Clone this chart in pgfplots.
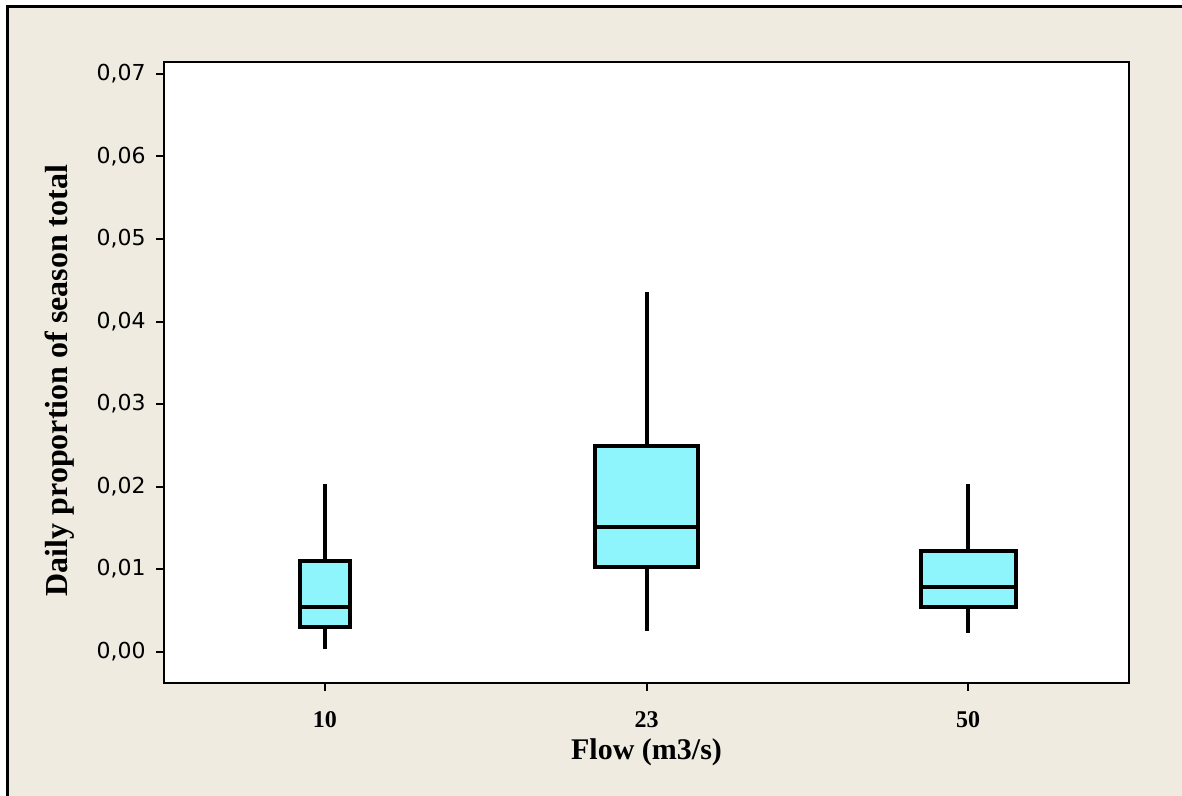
\documentclass[border=0pt]{standalone}
\usepackage{pgfplots}
\pgfplotsset{compat=1.18}
\usepgfplotslibrary{statistics}
\usepackage{fontspec}
\setmainfont{Liberation Serif}
\newfontfamily\tickfont{DejaVu Sans}
\definecolor{bg}{RGB}{239,235,225}
\definecolor{boxfill}{RGB}{143,245,252}
\begin{document}
\begin{tikzpicture}
\useasboundingbox (0,0) rectangle (591pt,398pt);
\fill[white] (0,0) rectangle (591pt,398pt);
\fill[bg] (3.5pt,0) rectangle (591pt,394.5pt);
\draw[line width=1.5pt] (3.5pt,0) -- (3.5pt,394.5pt) -- (591pt,394.5pt);
\begin{axis}[
  at={(82pt,56.5pt)}, anchor=south west,
  scale only axis, width=482.5pt, height=310.5pt,
  axis background/.style={fill=white},
  axis line style={line width=1pt, black},
  xmin=-0.5, xmax=2.5, ymin=-0.0038, ymax=0.07145,
  scaled y ticks=false,
  xtick={0,1,2}, xticklabels={10,23,50},
  ytick={0,0.01,0.02,0.03,0.04,0.05,0.06,0.07},
  yticklabels={{0,00},{0,01},{0,02},{0,03},{0,04},{0,05},{0,06},{0,07}},
  tick align=outside, tick pos=left,
  major tick length=4pt,
  every tick/.style={black, line width=1pt},
  yticklabel style={font=\tickfont\fontsize{11}{13}\selectfont, anchor=east, inner sep=0pt, xshift=-5pt},
  xticklabel style={font=\bfseries\fontsize{12}{14}\selectfont, anchor=center, inner sep=0pt, yshift=-14.5pt},
  xlabel={Flow (m3/s)},
  ylabel={Daily proportion of season total},
  every axis x label/.style={at={(rel axis cs:0.5,0)}, anchor=center, yshift=-34.5pt, font=\bfseries\fontsize{15}{17}\selectfont},
  every axis y label/.style={at={(rel axis cs:0,0.5)}, anchor=center, xshift=-52pt, yshift=-4pt, rotate=90, font=\bfseries\fontsize{16}{18}\selectfont},
  boxplot/draw direction=y,
  boxplot/whisker extend=0,
  clip=false,
]
\addplot+[boxplot prepared={draw position=0, lower whisker=0.00036, lower quartile=0.00294, median=0.00541, upper quartile=0.01094, upper whisker=0.02035, box extend=0.155},
  draw=black, fill=boxfill, line width=2pt, solid, mark=none] coordinates {};
\addplot+[boxplot prepared={draw position=1, lower whisker=0.00254, lower quartile=0.01026, median=0.0151, upper quartile=0.02495, upper whisker=0.0436, box extend=0.323},
  draw=black, fill=boxfill, line width=2pt, solid, mark=none] coordinates {};
\addplot+[boxplot prepared={draw position=2, lower whisker=0.00226, lower quartile=0.00537, median=0.00779, upper quartile=0.01223, upper whisker=0.0203, box extend=0.295},
  draw=black, fill=boxfill, line width=2pt, solid, mark=none] coordinates {};
\end{axis}
\end{tikzpicture}
\end{document}
